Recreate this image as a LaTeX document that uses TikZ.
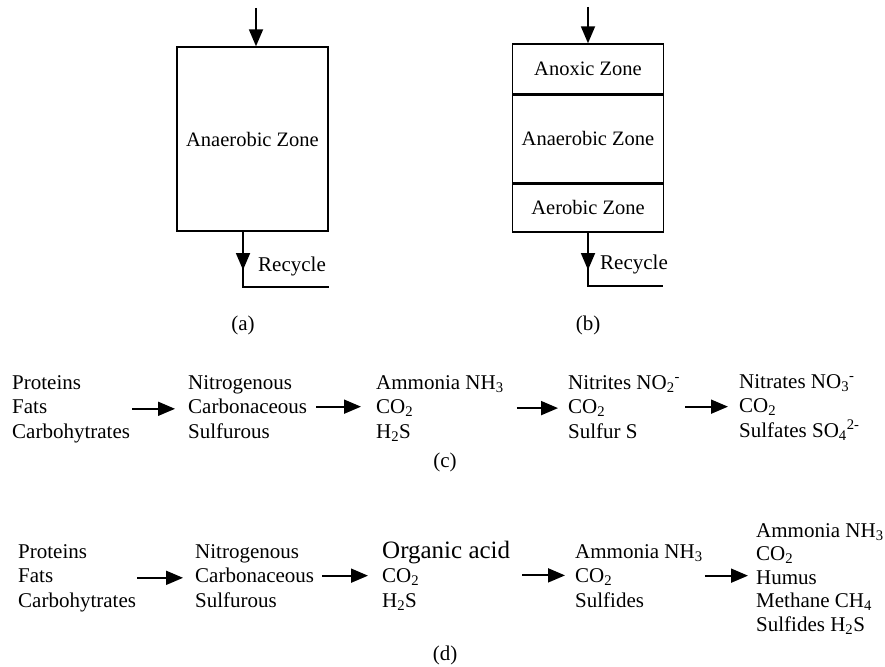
\documentclass[tikz,border=0pt]{standalone}
\usepackage{fontspec}
\setmainfont{Liberation Serif}
\usetikzlibrary{arrows.meta, positioning}

\begin{document}
\begin{tikzpicture}[
  x=1pt, y=-1pt,
  every node/.style={font=\fontsize{21}{24.5}\selectfont, inner sep=0pt},
  zonebox/.style={rectangle, draw, line width=1.4pt, minimum width=151pt, font=\fontsize{20.5}{24}\selectfont},
  chem/.style={anchor=base west, align=left},
  arr/.style={-{Triangle[length=17pt, width=14pt]}, line width=1.8pt},
  pipe/.style={line width=1.8pt}
]
  \useasboundingbox (0,0) rectangle (885,666);

  % reactor (a)
  \node[zonebox, minimum height=184pt] (tanka) at (252.5,139) {Anaerobic Zone};
  \coordinate (feeda) at (256,8);
  \coordinate (reca) at (243,287);
  \draw[arr] (feeda) -- (feeda |- tanka.north);
  \draw[pipe] (tanka.south -| reca) -- (reca) -- ++(86,0);
  \draw[arr] (tanka.south -| reca) -- ([yshift=17pt]reca);
  \node[anchor=base west] (recyclea) at (258,271) {Recycle};
  \node (capa) at (243,325) {(a)};

  % reactor (b)
  \node[zonebox, minimum height=50pt] (anoxic) at (588,69) {Anoxic Zone};
  \node[zonebox, minimum height=87pt, below=0pt of anoxic] (anaerobic) {Anaerobic Zone};
  \node[zonebox, minimum height=48pt, below=0pt of anaerobic] (aerobic) {Aerobic Zone};
  \coordinate (feedb) at (588,7);
  \coordinate (recb) at (588,286);
  \draw[arr] (feedb) -- (feedb |- anoxic.north);
  \draw[pipe] (aerobic.south -| recb) -- (recb) -- ++(75,0);
  \draw[arr] (aerobic.south -| recb) -- ([yshift=16pt]recb);
  \node[anchor=base west] (recycleb) at (600,269) {Recycle};
  \node (capb) at (588,325) {(b)};

  % aerobic path (c)
  \node[chem] (c1) at (12,438) {Proteins\\Fats\\Carbohytrates};
  \node[chem] (c2) at (188,438) {Nitrogenous\\Carbonaceous\\Sulfurous};
  \node[chem] (c3) at (376,438) {Ammonia NH\textsubscript{3}\\CO\textsubscript{2}\\H\textsubscript{2}S};
  \node[chem] (c4) at (568,438) {Nitrites NO\textsubscript{2}\textsuperscript{-}\\CO\textsubscript{2}\\Sulfur S};
  \node[chem] (c5) at (739,437) {Nitrates NO\textsubscript{3}\textsuperscript{-}\\CO\textsubscript{2}\\Sulfates SO\textsubscript{4}\textsuperscript{2-}};

  \draw[arr, shorten <=2pt, shorten >=13pt] (c1.east) -- (c1.east -| c2.west);
  \draw[arr, shorten <=9pt, shorten >=15pt] (c2.east) -- (c2.east -| c3.west);
  \draw[arr, shorten <=13pt, shorten >=10pt] (c3.east) -- (c3.east -| c4.west);
  \draw[arr, shorten <=5pt, shorten >=11pt] (c4.east) -- (c4.east -| c5.west);
  \node (capc) at (445,462) {(c)};

  % anaerobic path (d)
  \node[chem] (d1) at (18,607) {Proteins\\Fats\\Carbohytrates};
  \node[chem] (d2) at (195,607) {Nitrogenous\\Carbonaceous\\Sulfurous};
  \node[chem] (d3) at (382,607) {{\fontsize{25}{24.5}\selectfont Organic acid}\\CO\textsubscript{2}\\H\textsubscript{2}S};
  \node[chem] (d4) at (575,607) {Ammonia NH\textsubscript{3}\\CO\textsubscript{2}\\Sulfides};
  \node[chem, font=\fontsize{21}{23.5}\selectfont] (d5) at (756,631) {Ammonia NH\textsubscript{3}\\CO\textsubscript{2}\\Humus\\Methane CH\textsubscript{4}\\Sulfides H\textsubscript{2}S};

  \draw[arr, shorten <=1pt, shorten >=12pt] (d1.east) -- (d1.east -| d2.west);
  \draw[arr, shorten <=8pt, shorten >=14pt] (d2.east) -- (d2.east -| d3.west);
  \draw[arr, shorten <=12pt, shorten >=10pt] (d3.east) -- (d3.east -| d4.west);
  \draw[arr, shorten <=2pt, shorten >=8pt] (d4.east) -- (d4.east -| d5.west);
  \node (capd) at (445,655) {(d)};

\end{tikzpicture}
\end{document}
